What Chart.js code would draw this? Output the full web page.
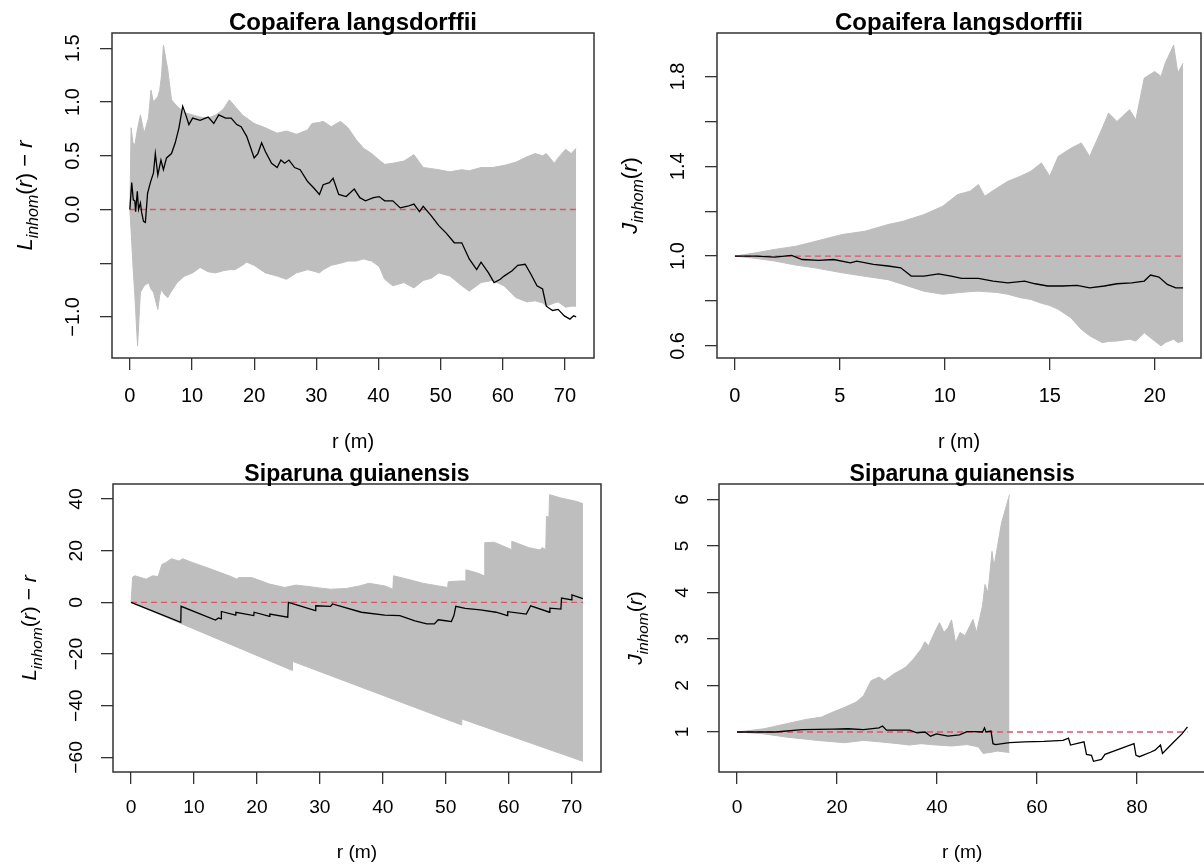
<!DOCTYPE html>
<html>
<head>
<meta charset="utf-8">
<script src="https://cdn.jsdelivr.net/npm/chart.js@4.4.0/dist/chart.umd.min.js"></script>
<style>
  html, body { margin: 0; padding: 0; background: #fff; overflow: hidden; }
  body { width: 1204px; height: 864px; position: relative; }
  canvas { position: absolute; }
</style>
</head>
<body>
<canvas id="copL"></canvas>
<canvas id="copJ"></canvas>
<canvas id="sipL"></canvas>
<canvas id="sipJ"></canvas>
<script>
const FONT = '"Liberation Sans", Arial, Helvetica, sans-serif';
const ENV_GREY = '#bebebe';
const THEO_RED = '#df536b';

// Copaifera langsdorffii, L_inhom(r) - r
const copL_r = [0, 0.2, 0.5, 0.8, 1.24, 1.7, 2.3, 3.0, 3.4, 3.8, 4.5, 4.8, 5.1, 5.4, 6.1, 6.7, 7.6, 8.8, 10.1, 11.3, 12.6, 13.8, 15.0, 16.0, 16.9, 18.1, 18.8, 20.0, 21.8, 23.7, 25.2, 26.8, 28.6, 29.3, 30.5, 31.1, 32.4, 33.9, 35.1, 36.4, 37.6, 38.9, 40.1, 41.0, 42.3, 44.1, 45.7, 47.2, 48.5, 49.7, 51.5, 53.4, 54.6, 56.5, 58.3, 60.2, 62.1, 63.9, 65.2, 66.4, 67.0, 68.3, 68.9, 70.1, 71.0, 71.8];
const copL_hi = [0, 0.76, 0.62, 0.60, 0.75, 0.88, 0.71, 0.85, 1.11, 1.00, 1.05, 1.11, 1.25, 1.53, 1.30, 1.02, 0.96, 0.90, 0.88, 0.86, 0.85, 0.88, 0.93, 1.02, 0.96, 0.88, 0.85, 0.80, 0.76, 0.71, 0.73, 0.70, 0.74, 0.80, 0.81, 0.82, 0.77, 0.82, 0.76, 0.65, 0.57, 0.52, 0.46, 0.42, 0.43, 0.45, 0.51, 0.39, 0.38, 0.37, 0.35, 0.37, 0.36, 0.39, 0.39, 0.41, 0.44, 0.49, 0.52, 0.50, 0.52, 0.43, 0.48, 0.56, 0.52, 0.57];
const copL_lo = [0, -0.2, -0.52, -0.8, -1.27, -0.77, -0.71, -0.68, -0.74, -0.77, -0.93, -0.80, -0.74, -0.78, -0.82, -0.76, -0.68, -0.62, -0.59, -0.54, -0.58, -0.59, -0.57, -0.56, -0.56, -0.52, -0.49, -0.52, -0.59, -0.62, -0.65, -0.59, -0.56, -0.57, -0.59, -0.56, -0.52, -0.50, -0.48, -0.48, -0.46, -0.48, -0.53, -0.65, -0.71, -0.68, -0.73, -0.66, -0.64, -0.59, -0.62, -0.71, -0.76, -0.68, -0.66, -0.71, -0.82, -0.86, -0.85, -0.87, -0.90, -0.87, -0.86, -0.91, -0.90, -0.90];
const copL_obsR = [0, 0.3, 0.55, 0.8, 0.93, 1.2, 1.4, 1.7, 1.9, 2.2, 2.5, 2.85, 3.3, 3.8, 4.1, 4.5, 5.0, 5.4, 5.9, 6.7, 7.3, 7.9, 8.5, 9.0, 9.5, 10.1, 11.3, 12.6, 13.5, 14.3, 15.4, 16.3, 17.2, 17.9, 18.8, 20.0, 20.6, 21.2, 21.8, 22.8, 23.7, 24.3, 24.9, 25.6, 26.5, 27.4, 28.6, 29.6, 30.5, 31.1, 32.1, 32.7, 33.6, 34.8, 36.1, 37.0, 37.9, 39.2, 40.1, 41.0, 42.3, 43.5, 44.7, 45.7, 46.6, 47.2, 48.5, 49.7, 50.9, 52.2, 53.4, 54.6, 55.8, 56.5, 57.7, 58.6, 59.6, 60.2, 61.5, 62.4, 63.6, 64.5, 65.5, 66.4, 67.0, 68.0, 68.9, 69.9, 70.8, 71.4, 71.8];
const copL_obs = [0, 0.25, 0.09, 0.08, -0.02, 0.17, 0.0, 0.06, -0.03, -0.11, -0.12, 0.15, 0.25, 0.34, 0.52, 0.32, 0.46, 0.37, 0.48, 0.52, 0.62, 0.76, 0.96, 0.88, 0.79, 0.85, 0.83, 0.86, 0.80, 0.88, 0.85, 0.85, 0.79, 0.77, 0.68, 0.48, 0.52, 0.62, 0.54, 0.43, 0.39, 0.46, 0.43, 0.46, 0.39, 0.37, 0.26, 0.20, 0.14, 0.23, 0.25, 0.29, 0.14, 0.12, 0.19, 0.11, 0.08, 0.11, 0.12, 0.08, 0.08, 0.015, 0.03, 0.05, -0.02, 0.03, -0.06, -0.15, -0.22, -0.31, -0.31, -0.46, -0.56, -0.49, -0.59, -0.68, -0.65, -0.62, -0.57, -0.52, -0.51, -0.60, -0.71, -0.74, -0.90, -0.94, -0.93, -0.99, -1.02, -0.99, -1.00];
const copL_theoR = [0, 71.8];
const copL_theo = [0, 0];
const copL_xTicks = [0, 10, 20, 30, 40, 50, 60, 70];
const copL_yTicks = [-1.0, -0.5, 0, 0.5, 1.0, 1.5];
const copL_yLabels = ['\u22121.0', '', '0.0', '0.5', '1.0', '1.5'];

// Copaifera langsdorffii, J_inhom(r)
const copJ_r = [0, 1.0, 1.9, 2.9, 3.8, 5.1, 6.2, 7.3, 8.0, 9.0, 9.9, 10.6, 11.2, 11.6, 11.9, 12.5, 13.0, 13.6, 14.1, 14.6, 15.0, 15.4, 16.0, 16.5, 16.9, 17.5, 17.8, 18.2, 18.8, 19.1, 19.5, 20.0, 20.3, 20.5, 20.9, 21.1, 21.35];
const copJ_hi = [1.0, 1.015, 1.03, 1.044, 1.065, 1.096, 1.111, 1.141, 1.155, 1.185, 1.222, 1.274, 1.289, 1.319, 1.267, 1.304, 1.333, 1.356, 1.378, 1.415, 1.356, 1.444, 1.48, 1.504, 1.444, 1.57, 1.637, 1.60, 1.652, 1.607, 1.793, 1.822, 1.80, 1.859, 1.94, 1.815, 1.859];
const copJ_lo = [1.0, 0.99, 0.978, 0.96, 0.948, 0.926, 0.91, 0.895, 0.874, 0.844, 0.83, 0.837, 0.842, 0.844, 0.842, 0.838, 0.83, 0.815, 0.807, 0.79, 0.78, 0.763, 0.726, 0.674, 0.645, 0.615, 0.62, 0.622, 0.63, 0.622, 0.659, 0.622, 0.60, 0.615, 0.63, 0.615, 0.622];
const copJ_obsR = [0, 1.0, 1.9, 2.7, 3.2, 4.0, 4.7, 5.5, 5.8, 6.6, 7.3, 7.9, 8.4, 9.0, 9.7, 10.3, 10.8, 11.6, 12.3, 13.0, 13.8, 14.3, 14.9, 15.6, 16.3, 16.9, 17.6, 18.2, 18.9, 19.5, 19.8, 20.2, 20.6, 21.0, 21.35];
const copJ_obs = [1.0, 1.0, 0.996, 1.003, 0.985, 0.981, 0.985, 0.97, 0.978, 0.963, 0.956, 0.948, 0.911, 0.911, 0.921, 0.911, 0.901, 0.901, 0.889, 0.881, 0.889, 0.877, 0.867, 0.867, 0.87, 0.859, 0.867, 0.877, 0.881, 0.889, 0.916, 0.907, 0.874, 0.859, 0.859];
const copJ_theoR = [0, 21.35];
const copJ_theo = [1, 1];
const copJ_xTicks = [0, 5, 10, 15, 20];
const copJ_yTicks = [0.6, 0.8, 1.0, 1.2, 1.4, 1.6, 1.8];
const copJ_yLabels = ['0.6', '', '1.0', '', '1.4', '', '1.8'];

// Siparuna guianensis, L_inhom(r) - r
const sipL_hiR = [0, 0.25, 0.6, 2.4, 3.4, 4.3, 4.9, 5.5, 6.4, 7.6, 8.2, 9.8, 12.8, 15.9, 16.8, 17.1, 19.2, 22.0, 24.4, 26.2, 28.1, 29.9, 31.7, 34.2, 36.3, 37.8, 40.3, 41.6, 41.7, 43.9, 46.4, 48.8, 50.3, 50.4, 52.2, 53.1, 53.2, 54.9, 56.1, 56.2, 57.7, 60.4, 60.5, 63.2, 65.0, 65.3, 65.9, 66.0, 66.4, 66.5, 68.3, 70.8, 71.8];
const sipL_hi = [0, 9.8, 10.3, 9.0, 10.3, 10.0, 14.7, 15.4, 16.9, 16.0, 16.9, 15.4, 12.8, 10.0, 9.0, 9.6, 9.6, 7.1, 5.8, 6.7, 6.2, 5.6, 5.1, 5.4, 6.4, 7.4, 6.4, 5.1, 10.3, 9.0, 7.4, 6.4, 5.8, 8.0, 8.3, 8.3, 12.6, 11.5, 10.3, 23.1, 23.3, 20.5, 23.7, 21.2, 20.3, 21.2, 20.5, 33.3, 33.0, 41.7, 40.4, 39.1, 38.2];
const sipL_loR = [0, 25.6, 25.65, 52.5, 52.55, 71.8];
const sipL_lo = [0, -26.3, -22.8, -47.4, -45.1, -61.5];
const sipL_obsR = [0, 7.9, 7.95, 13.4, 13.9, 14.3, 14.35, 16.6, 16.65, 19.5, 19.55, 22.0, 22.05, 24.9, 25.0, 29.3, 29.35, 31.7, 32.0, 36.6, 40.3, 42.7, 45.1, 47.0, 48.2, 48.8, 50.0, 50.9, 51.3, 51.6, 53.1, 55.5, 58.0, 59.8, 59.85, 62.8, 63.5, 66.5, 66.55, 68.3, 68.4, 70.0, 70.05, 71.8];
const sipL_obs = [0, -7.7, -1.5, -6.8, -6.0, -6.4, -3.5, -4.9, -3.8, -5.1, -3.8, -5.4, -4.5, -5.7, 0.0, -3.2, -1.3, -1.5, -0.6, -3.8, -4.9, -5.1, -7.1, -8.3, -8.3, -6.7, -7.1, -7.4, -5.1, -1.5, -2.3, -2.9, -3.8, -5.1, -3.6, -4.5, -1.3, -3.8, -2.2, -2.6, 1.7, 1.0, 2.9, 1.5];
const sipL_theoR = [0, 71.8];
const sipL_theo = [0, 0];
const sipL_xTicks = [0, 10, 20, 30, 40, 50, 60, 70];
const sipL_yTicks = [-60, -40, -20, 0, 20, 40];
const sipL_yLabels = ['\u221260', '\u221240', '\u221220', '0', '20', '40'];

// Siparuna guianensis, J_inhom(r)
const sipJ_hiR = [0, 5.4, 10.0, 13.8, 16.9, 19.2, 21.5, 23.8, 25.3, 26.8, 28.4, 29.5, 31.4, 33.7, 35.3, 36.8, 37.6, 38.3, 39.5, 40.5, 41.4, 42.2, 42.9, 43.7, 44.6, 45.6, 47.2, 47.9, 49.1, 49.6, 50.2, 51.0, 51.4, 52.9, 54.5];
const sipJ_hi = [1.0, 1.07, 1.18, 1.27, 1.32, 1.43, 1.53, 1.64, 1.78, 2.10, 2.18, 2.10, 2.25, 2.39, 2.57, 2.78, 2.94, 2.85, 3.14, 3.35, 3.14, 3.24, 3.41, 2.92, 3.14, 3.07, 3.42, 3.14, 3.71, 4.17, 3.99, 4.88, 4.56, 5.49, 6.1];
const sipJ_loR = [0, 5.4, 10.0, 16.1, 21.5, 25.3, 28.4, 32.2, 34.5, 36.8, 39.9, 42.9, 46.0, 48.3, 49.2, 50.6, 52.1, 54.5];
const sipJ_lo = [1.0, 0.96, 0.89, 0.82, 0.77, 0.82, 0.79, 0.75, 0.72, 0.75, 0.72, 0.70, 0.73, 0.68, 0.54, 0.56, 0.59, 0.56];
const sipJ_obsR = [0, 7.7, 13.0, 19.2, 22.2, 25.3, 28.4, 29.1, 29.9, 34.5, 36.0, 37.6, 38.7, 39.9, 42.2, 44.5, 46.0, 47.5, 49.1, 49.5, 49.8, 50.8, 51.2, 51.7, 54.5, 57.5, 61.4, 65.2, 66.3, 66.7, 69.4, 69.9, 70.9, 71.3, 72.9, 73.6, 79.4, 79.8, 80.5, 82.8, 83.6, 84.7, 85.1, 87.4, 89.0, 90.1];
const sipJ_obs = [1.0, 1.0, 1.05, 1.06, 1.07, 1.05, 1.09, 1.13, 1.04, 1.04, 0.98, 1.0, 0.91, 0.96, 0.91, 0.94, 1.01, 1.01, 1.0, 1.09, 1.0, 1.02, 0.75, 0.73, 0.77, 0.79, 0.80, 0.82, 0.87, 0.72, 0.79, 0.52, 0.50, 0.37, 0.41, 0.52, 0.75, 0.50, 0.47, 0.57, 0.61, 0.72, 0.54, 0.79, 0.96, 1.11];
const sipJ_theoR = [0, 90.1];
const sipJ_theo = [1, 1];
const sipJ_xTicks = [0, 20, 40, 60, 80];
const sipJ_yTicks = [1, 2, 3, 4, 5, 6];
const sipJ_yLabels = ['1', '2', '3', '4', '5', '6'];

Chart.defaults.font.family = FONT;
Chart.defaults.color = '#000';

// R's default axis range: data range stretched by 4% on both sides
function rLimits(arrays) {
  const all = arrays.flat();
  const lo = Math.min(...all), hi = Math.max(...all);
  const pad = (hi - lo) * 0.04;
  return [lo - pad, hi + pad];
}

function pts(xs, ys) {
  return xs.map((x, i) => ({x: x, y: ys[i]}));
}

// box, main title, x label, rotated y tick labels and y label, drawn R style
const rFrame = {
  id: 'rFrame',
  afterDraw(chart, args, o) {
    const {ctx, chartArea: a} = chart;
    const yScale = chart.scales.y;
    const k = o.k;
    const cx = (a.left + a.right) / 2;
    ctx.save();
    ctx.strokeStyle = '#333';
    ctx.lineWidth = 1.5;
    ctx.strokeRect(a.left, a.top, a.right - a.left, a.bottom - a.top);

    ctx.fillStyle = '#000';
    ctx.textAlign = 'center';
    ctx.textBaseline = 'alphabetic';
    ctx.font = `bold ${24 * k}px ${FONT}`;
    ctx.fillText(o.title, cx, a.top - 3.5);

    ctx.font = `${20 * k}px ${FONT}`;
    ctx.textBaseline = 'middle';
    ctx.fillText('r (m)', cx, a.bottom + o.xTitleGap);

    o.yTicks.forEach((v, i) => {
      if (!o.yLabels[i]) return;
      ctx.save();
      ctx.translate(a.left - o.yLabGap, yScale.getPixelForValue(v));
      ctx.rotate(-Math.PI / 2);
      ctx.fillText(o.yLabels[i], 0, 0);
      ctx.restore();
    });

    // y label: name with italic subscript "inhom"
    const parts = [
      {t: o.yName, it: true, s: 22},
      {t: 'inhom', it: true, s: 16, dy: 6},
      {t: '(', s: 22}, {t: 'r', it: true, s: 22}, {t: ')', s: 22}
    ];
    if (o.minusR) parts.push({t: ' \u2212 ', s: 22}, {t: 'r', it: true, s: 22});
    const fontOf = p => `${p.it ? 'italic ' : ''}${p.s * k}px ${FONT}`;
    let total = 0;
    parts.forEach(p => { ctx.font = fontOf(p); p.w = ctx.measureText(p.t).width; total += p.w; });
    ctx.translate(a.left - 80 * k, (a.top + a.bottom) / 2);
    ctx.rotate(-Math.PI / 2);
    ctx.textAlign = 'left';
    ctx.textBaseline = 'alphabetic';
    let px = -total / 2;
    parts.forEach(p => {
      ctx.font = fontOf(p);
      ctx.fillText(p.t, px, (p.dy || 0) * k);
      px += p.w;
    });
    ctx.restore();
  }
};

function drawPanel(id, p) {
  const canvas = document.getElementById(id);
  canvas.width = p.cw;
  canvas.height = p.ch;
  canvas.style.left = p.cx + 'px';
  canvas.style.top = p.cy + 'px';

  const [xMin, xMax] = rLimits([p.hiR, p.loR, p.obsR]);
  const [yMin, yMax] = rLimits([p.hi, p.lo, p.obs]);
  const k = p.k;
  const gridOpts = {drawOnChartArea: false, drawTicks: true, tickLength: 12, color: '#333', lineWidth: 1.3};

  new Chart(canvas, {
    type: 'line',
    data: {
      datasets: [
        {data: pts(p.obsR, p.obs), borderColor: '#000', borderWidth: 1.3, pointRadius: 0, fill: false, tension: 0},
        {data: pts(p.theoR, p.theo), borderColor: THEO_RED, borderWidth: 1.4, borderDash: [6, 4], pointRadius: 0, fill: false},
        {data: pts(p.hiR, p.hi), borderColor: ENV_GREY, backgroundColor: ENV_GREY, borderWidth: 1, pointRadius: 0, fill: '+1'},
        {data: pts(p.loR, p.lo), borderColor: ENV_GREY, borderWidth: 1, pointRadius: 0, fill: false}
      ]
    },
    options: {
      responsive: false,
      animation: false,
      devicePixelRatio: 1,
      events: [],
      layout: {
        autoPadding: false,
        padding: {left: 0, bottom: 0, top: p.box.t - p.cy, right: p.cx + p.cw - p.box.r}
      },
      plugins: {
        legend: {display: false},
        tooltip: {enabled: false},
        rFrame: {
          k: k, title: p.title, yName: p.yName, minusR: p.minusR,
          yTicks: p.yTicks, yLabels: p.yLabels,
          xTitleGap: p.xTitleGap, yLabGap: p.yLabGap
        }
      },
      scales: {
        x: {
          type: 'linear', min: xMin, max: xMax,
          afterBuildTicks: s => { s.ticks = p.xTicks.map(v => ({value: v})); },
          afterFit: s => { s.height = p.cy + p.ch - p.box.b; },
          grid: gridOpts,
          border: {display: false},
          ticks: {font: {size: 20 * k}, color: '#000', padding: p.tickPad, maxRotation: 0, autoSkip: false, callback: v => String(v)}
        },
        y: {
          type: 'linear', min: yMin, max: yMax,
          afterBuildTicks: s => { s.ticks = p.yTicks.map(v => ({value: v})); },
          afterFit: s => { s.width = p.box.l - p.cx; },
          grid: gridOpts,
          border: {display: false},
          ticks: {display: false}
        }
      }
    },
    plugins: [rFrame]
  });
}

const topRow = {k: 1, cy: 0, ch: 460, xTitleGap: 84, yLabGap: 38.5, tickPad: 14.5};
const bottomRow = {k: 0.96, cy: 432, ch: 432, xTitleGap: 81, yLabGap: 36.5, tickPad: 12.5};

drawPanel('copL', Object.assign({}, topRow, {
  cx: 0, cw: 602, box: {l: 112, t: 33, r: 594, b: 358},
  title: 'Copaifera langsdorffii', yName: 'L', minusR: true,
  hiR: copL_r, hi: copL_hi, loR: copL_r, lo: copL_lo,
  obsR: copL_obsR, obs: copL_obs, theoR: copL_theoR, theo: copL_theo,
  xTicks: copL_xTicks, yTicks: copL_yTicks, yLabels: copL_yLabels
}));

drawPanel('copJ', Object.assign({}, topRow, {
  cx: 602, cw: 602, box: {l: 717, t: 33, r: 1201, b: 358},
  title: 'Copaifera langsdorffii', yName: 'J', minusR: false,
  hiR: copJ_r, hi: copJ_hi, loR: copJ_r, lo: copJ_lo,
  obsR: copJ_obsR, obs: copJ_obs, theoR: copJ_theoR, theo: copJ_theo,
  xTicks: copJ_xTicks, yTicks: copJ_yTicks, yLabels: copJ_yLabels
}));

drawPanel('sipL', Object.assign({}, bottomRow, {
  cx: 0, cw: 602, box: {l: 113, t: 484, r: 601, b: 772},
  title: 'Siparuna guianensis', yName: 'L', minusR: true,
  hiR: sipL_hiR, hi: sipL_hi, loR: sipL_loR, lo: sipL_lo,
  obsR: sipL_obsR, obs: sipL_obs, theoR: sipL_theoR, theo: sipL_theo,
  xTicks: sipL_xTicks, yTicks: sipL_yTicks, yLabels: sipL_yLabels
}));

drawPanel('sipJ', Object.assign({}, bottomRow, {
  cx: 602, cw: 606, box: {l: 719, t: 484, r: 1205.5, b: 772},
  title: 'Siparuna guianensis', yName: 'J', minusR: false,
  hiR: sipJ_hiR, hi: sipJ_hi, loR: sipJ_loR, lo: sipJ_lo,
  obsR: sipJ_obsR, obs: sipJ_obs, theoR: sipJ_theoR, theo: sipJ_theo,
  xTicks: sipJ_xTicks, yTicks: sipJ_yTicks, yLabels: sipJ_yLabels
}));
</script>
</body>
</html>
